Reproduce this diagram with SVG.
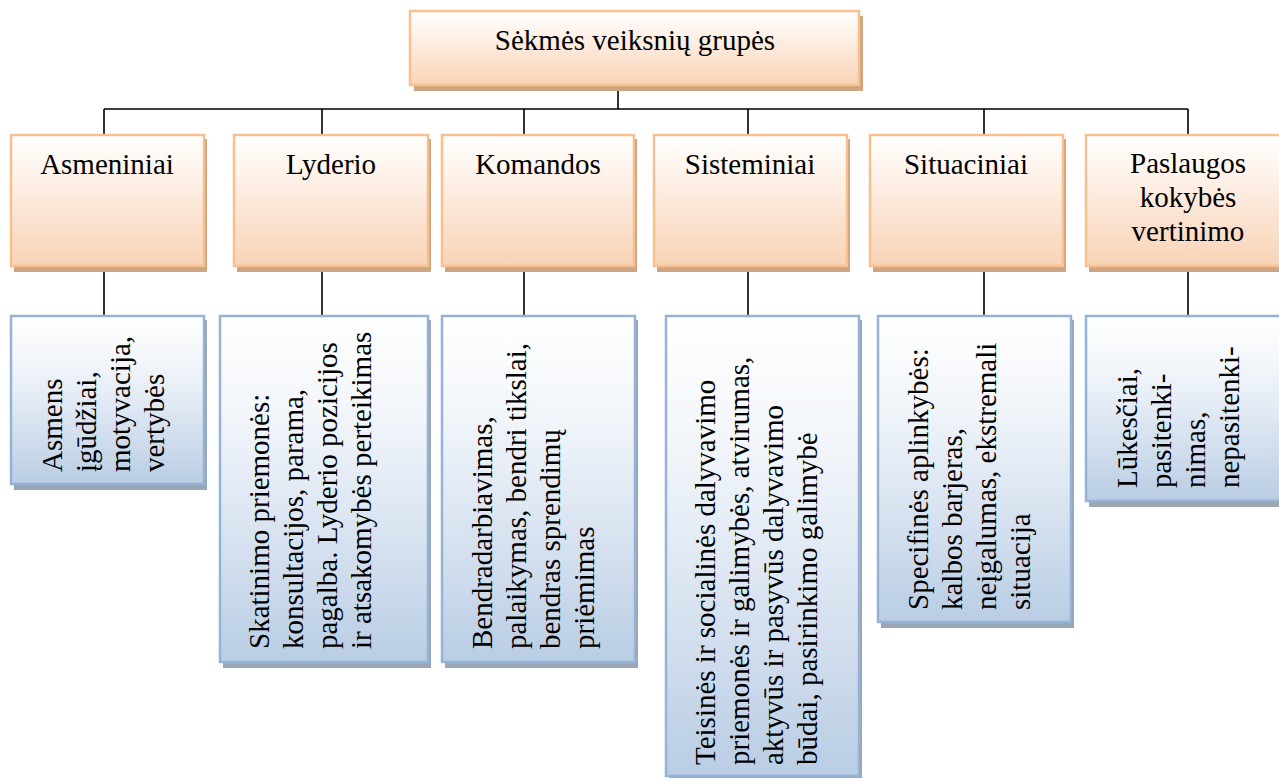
<svg xmlns="http://www.w3.org/2000/svg" width="1279" height="778" viewBox="0 0 1279 778">
<defs>
<linearGradient id="og" x1="0" y1="0" x2="0" y2="1">
<stop offset="0" stop-color="#ffffff"/>
<stop offset="0.3" stop-color="#fef3ea"/>
<stop offset="0.65" stop-color="#fbe2d0"/>
<stop offset="1" stop-color="#f9d4b6"/>
</linearGradient>
<linearGradient id="bg" x1="0" y1="0" x2="0" y2="1">
<stop offset="0" stop-color="#ffffff"/>
<stop offset="0.3" stop-color="#f1f5fa"/>
<stop offset="0.65" stop-color="#d7e2f0"/>
<stop offset="1" stop-color="#b9cde4"/>
</linearGradient>
</defs>
<style>
.o{fill:url(#og);stroke:#f8bf8f;stroke-width:2.5}
.os{fill:#cfa482}
.b{fill:url(#bg);stroke:#95b3d7;stroke-width:2.5}
.bs{fill:#9aa6b6}
.c{text-anchor:middle}
.ln{fill:none;stroke:#000;stroke-width:1.6}
.t{font-family:'Liberation Serif','Tinos','Times New Roman','DejaVu Serif Condensed','DejaVu Serif',serif;font-size:29px;fill:#000}
</style>
<rect width="1279" height="778" fill="#ffffff"/>
<g id="connectors">
<path class="ln" d="M618 85V109M104 109H1188M104 109V135M322 109V135M524 109V135M748 109V135M984 109V135M1188 109V135M104 266V316M322 266V316M524 266V316M748 266V316M984 266V316M1188 266V316"/>
</g>
<g class="t">
<g id="root">
<rect class="os" x="414" y="16" width="449" height="75"/>
<rect class="o" x="410" y="11" width="449" height="74"/>
<text class="c" x="635" y="50">Sėkmės veiksnių grupės</text>
</g>
<g id="asmeniniai">
<rect class="os" x="14" y="139" width="193" height="133"/>
<rect class="o" x="11" y="135" width="193" height="131"/>
<text class="c" x="107" y="174">Asmeniniai</text>
</g>
<g id="lyderio">
<rect class="os" x="237" y="139" width="194" height="133"/>
<rect class="o" x="234" y="135" width="194" height="131"/>
<text class="c" x="331" y="174">Lyderio</text>
</g>
<g id="komandos">
<rect class="os" x="445" y="139" width="192" height="133"/>
<rect class="o" x="442" y="135" width="192" height="131"/>
<text class="c" x="538" y="174">Komandos</text>
</g>
<g id="sisteminiai">
<rect class="os" x="657" y="139" width="193" height="133"/>
<rect class="o" x="654" y="135" width="193" height="131"/>
<text class="c" x="750" y="174">Sisteminiai</text>
</g>
<g id="situaciniai">
<rect class="os" x="873" y="139" width="193" height="133"/>
<rect class="o" x="870" y="135" width="193" height="131"/>
<text class="c" x="966" y="174">Situaciniai</text>
</g>
<g id="paslaugos">
<rect class="os" x="1089" y="139" width="204" height="133"/>
<rect class="o" x="1086" y="135" width="204" height="131"/>
<text class="c" x="1188" y="173">Paslaugos</text>
<text class="c" x="1188" y="207">kokybės</text>
<text class="c" x="1188" y="241">vertinimo</text>
</g>
<g id="asmens">
<rect class="bs" x="14" y="320" width="193" height="170"/>
<rect class="b" x="11" y="316" width="193" height="168"/>
<text transform="translate(62,472) rotate(-90)"><tspan x="0" y="0">Asmens</tspan><tspan x="0" y="34">įgūdžiai,</tspan><tspan x="0" y="68">motyvacija,</tspan><tspan x="0" y="102">vertybės</tspan></text>
</g>
<g id="skatinimo">
<rect class="bs" x="223" y="320" width="208" height="348"/>
<rect class="b" x="220" y="316" width="208" height="346"/>
<text transform="translate(269,649) rotate(-90)"><tspan x="0" y="0">Skatinimo priemonės:</tspan><tspan x="0" y="34">konsultacijos, parama,</tspan><tspan x="0" y="68">pagalba. Lyderio pozicijos</tspan><tspan x="0" y="102">ir atsakomybės perteikimas</tspan></text>
</g>
<g id="bendradarbiavimas">
<rect class="bs" x="445" y="320" width="193" height="348"/>
<rect class="b" x="442" y="316" width="193" height="346"/>
<text transform="translate(492,649) rotate(-90)"><tspan x="0" y="0">Bendradarbiavimas,</tspan><tspan x="0" y="34">palaikymas, bendri tikslai,</tspan><tspan x="0" y="68">bendras sprendimų</tspan><tspan x="0" y="102">priėmimas</tspan></text>
</g>
<g id="teisines">
<rect class="bs" x="669" y="320" width="193" height="462"/>
<rect class="b" x="666" y="316" width="193" height="460"/>
<text transform="translate(715,765) rotate(-90)"><tspan x="0" y="0">Teisinės ir socialinės dalyvavimo</tspan><tspan x="0" y="34">priemonės ir galimybės, atvirumas,</tspan><tspan x="0" y="68">aktyvūs ir pasyvūs dalyvavimo</tspan><tspan x="0" y="102">būdai, pasirinkimo galimybė</tspan></text>
</g>
<g id="specifines">
<rect class="bs" x="881" y="320" width="193" height="308"/>
<rect class="b" x="878" y="316" width="193" height="306"/>
<text transform="translate(928,610) rotate(-90)"><tspan x="0" y="0">Specifinės aplinkybės:</tspan><tspan x="0" y="34">kalbos barjeras,</tspan><tspan x="0" y="68">neįgalumas, ekstremali</tspan><tspan x="0" y="102">situacija</tspan></text>
</g>
<g id="lukesciai">
<rect class="bs" x="1089" y="320" width="204" height="187"/>
<rect class="b" x="1086" y="316" width="204" height="185"/>
<text transform="translate(1137,488) rotate(-90)"><tspan x="0" y="0">Lūkesčiai,</tspan><tspan x="0" y="34">pasitenki-</tspan><tspan x="0" y="68">nimas,</tspan><tspan x="0" y="102">nepasitenki-</tspan></text>
</g>
</g>
</svg>
